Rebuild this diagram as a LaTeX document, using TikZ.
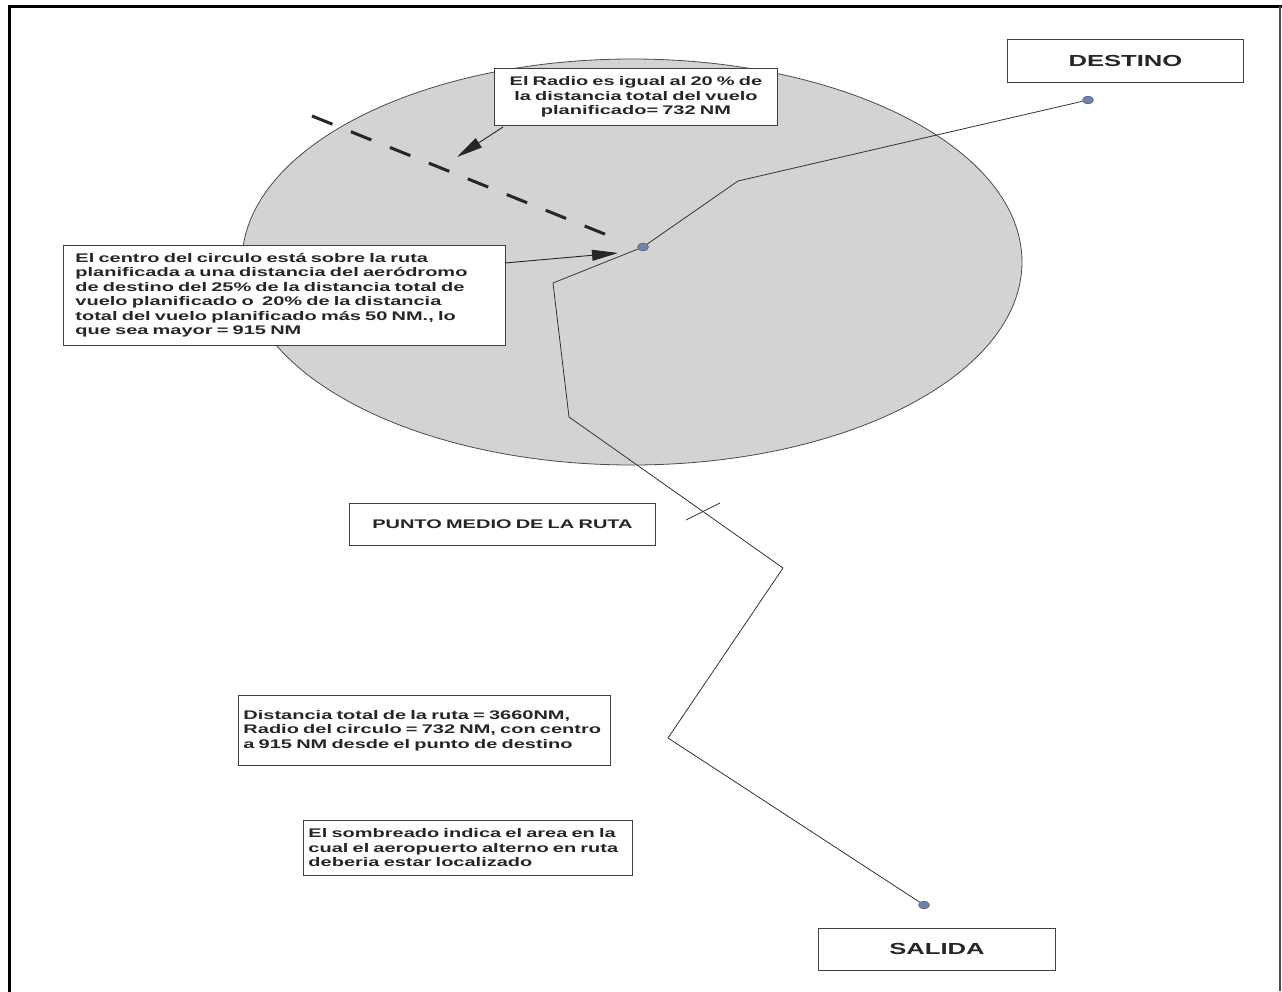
\documentclass[tikz,border=0pt]{standalone}
\usepackage{fontspec}
\setmainfont{Liberation Sans}[FakeStretch=1.6]
\usetikzlibrary{arrows.meta,shapes.geometric}
\begin{document}
\begin{tikzpicture}[x=1pt,y=-1pt,
  box/.style={draw=black!75, line width=0.9pt, fill=white, inner ysep=0pt, anchor=north west},
  txt/.style={font=\fontsize{12.5}{14.5}\selectfont\bfseries, text=black!85},
  ttl/.style={font=\fontsize{16}{18}\selectfont\bfseries, text=black!85, align=center},
  dot/.style={ellipse, draw=black!70, fill={rgb,255:red,112;green,128;blue,178}, minimum width=11pt, minimum height=8pt, inner sep=0pt},
  route/.style={draw=black!80, line width=0.8pt},
  pointer/.style={draw=black!85, line width=0.9pt, -{Triangle[length=26pt,width=11pt]}},
  radius/.style={draw=black!85, line width=3pt, dash pattern=on 22pt off 20pt}]
\useasboundingbox (0,0) rectangle (1282,991);
\fill[white] (0,0) rectangle (1282,991);
% frame
\draw[line width=3pt, line cap=rect] (9,991) -- (9,6) -- (1280,6);
\draw[line width=2pt, draw=black!70] (1280,6) -- (1280,991);
% circle
\draw[fill={rgb,255:red,211;green,211;blue,211}, draw=black!70, line width=0.8pt] (632,262) ellipse [x radius=390, y radius=203];
% radius (dashed)
\coordinate (rA) at (312,116);
\coordinate (rB) at (612,237);
\draw[radius] (rA) -- (rB);
% route points
\node[dot] (dest) at (1088,100) {};
\node[dot] (cen) at (643,247) {};
\node[dot] (sal) at (924,905) {};
\coordinate (r1) at (738,181);
\coordinate (r2) at (553,283);
\coordinate (r3) at (569,417);
\coordinate (r4) at (783,568);
\coordinate (r5) at (668,738);
\draw[route] (sal) -- (r5) -- (r4) -- (r3) -- (r2) -- (cen) -- (r1) -- (dest);
% midpoint tick
\coordinate (tA) at (686,520);
\coordinate (tB) at (720,503);
\draw[route] (tA) -- (tB);
% boxes
\node[box, txt, inner xsep=4pt, text width=275pt, minimum height=57pt, align=center] (b1) at (494,68)
  {El Radio es igual al 20 \% de\\la distancia total del vuelo\\planificado= 732 NM};
\node[box, txt, inner xsep=12pt, text width=418pt, minimum height=100pt, align=left] (b2) at (63,245)
  {El centro del circulo está sobre la ruta\\planificada a una distancia del aeródromo\\de destino del 25\% de la distancia total de\\vuelo planificado o~ 20\% de la distancia\\total del vuelo planificado más 50 NM., lo\\que sea mayor = 915 NM};
\node[box, txt, inner xsep=5pt, text width=362pt, minimum height=70pt, align=left] (b3) at (238,695)
  {Distancia total de la ruta = 3660NM,\\Radio del circulo = 732 NM, con centro\\a 915 NM desde el punto de destino};
\node[box, txt, inner xsep=5pt, text width=319pt, minimum height=55pt, align=left] (b4) at (303,820)
  {El sombreado indica el area en la\\cual el aeropuerto alterno en ruta\\deberia estar localizado};
\node[box, ttl, inner xsep=0pt, text width=236pt, minimum height=43pt] (tdest) at (1007,39) {DESTINO};
\node[box, txt, inner xsep=0pt, text width=306pt, minimum height=42pt, align=center] (tmed) at (349,503) {PUNTO MEDIO DE LA RUTA};
\node[box, ttl, inner xsep=0pt, text width=237pt, minimum height=42pt] (tsal) at (818,928) {SALIDA};
% pointers
\coordinate (p1s) at (503,127);
\coordinate (p1e) at (457,157);
\draw[pointer] (p1s) -- (p1e);
\coordinate (p2s) at (505,263);
\coordinate (p2e) at (618,253);
\draw[pointer] (p2s) -- (p2e);
\end{tikzpicture}
\end{document}
